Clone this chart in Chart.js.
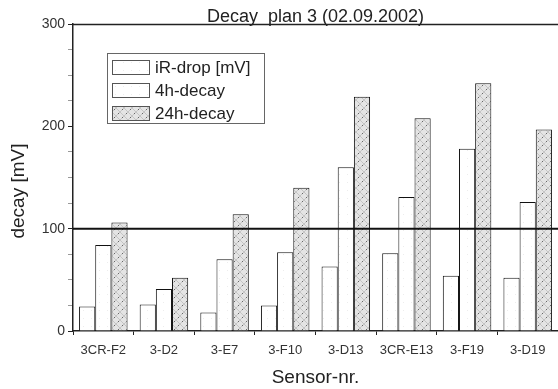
<!DOCTYPE html>
<html>
<head>
<meta charset="utf-8">
<script src="https://cdn.jsdelivr.net/npm/chart.js@4.4.0/dist/chart.umd.min.js"></script>
<style>
  html, body { margin: 0; padding: 0; background: #fff; }
  #wrap { width: 558px; height: 389px; position: relative; }
</style>
</head>
<body>
<div id="wrap"><canvas id="chartjs"></canvas></div>
<script>
// data
const categories = ['3CR-F2', '3-D2', '3-E7', '3-F10', '3-D13', '3CR-E13', '3-F19', '3-D19'];
const irDrop   = [24, 26, 18, 25, 63, 76, 54, 52];
const decay4h  = [84, 41, 70, 77, 160, 131, 178, 126];
const decay24h = [106, 52, 114, 140, 229, 208, 242, 197];
const seriesNames = ['iR-drop [mV]', '4h-decay', '24h-decay'];
const yTicks = [0, 100, 200, 300];
const limitValue = 100;

const FONT = "'Liberation Sans', Arial, sans-serif";

// fill patterns
function makePattern(kind) {
  const c = document.createElement('canvas');
  c.width = 8; c.height = 8;
  const g = c.getContext('2d');
  g.fillStyle = '#fff';
  g.fillRect(0, 0, 8, 8);
  if (kind == 'dense') {
    g.fillStyle = '#e4e4e4';
    g.fillRect(0, 0, 8, 8);
    g.strokeStyle = '#b8b8b8';
    g.lineWidth = 0.7;
    g.beginPath();
    g.moveTo(0, 0); g.lineTo(8, 8);
    g.moveTo(8, 0); g.lineTo(0, 8);
    g.stroke();
    g.fillStyle = '#666';
    g.fillRect(2, 5, 1, 1);
    g.fillRect(6, 1, 1, 1);
  } else {
    g.fillStyle = '#ededed';
    g.fillRect(3, 6, 1, 1);
  }
  return g.createPattern(c, 'repeat');
}

// horizontal limit line, top frame, title, axis titles, legend
const decor = {
  id: 'decor',
  afterDatasetsDraw(chart) {
    const ctx = chart.ctx;
    const a = chart.chartArea;
    const y = chart.scales.y.getPixelForValue(limitValue);
    ctx.save();
    ctx.strokeStyle = '#111';
    ctx.lineWidth = 2;
    ctx.beginPath();
    ctx.moveTo(a.left, y);
    ctx.lineTo(a.right, y);
    ctx.stroke();
    ctx.restore();
  },
  afterDraw(chart) {
    const ctx = chart.ctx;
    const a = chart.chartArea;
    ctx.save();
    // top frame
    ctx.strokeStyle = '#222';
    ctx.lineWidth = 1.5;
    ctx.beginPath();
    ctx.moveTo(a.left, a.top + 0.5);
    ctx.lineTo(a.right, a.top + 0.5);
    ctx.stroke();

    ctx.fillStyle = '#222';
    ctx.textAlign = 'center';
    ctx.textBaseline = 'alphabetic';
    ctx.font = '18px ' + FONT;
    ctx.fillText('Decay  plan 3 (02.09.2002)', (a.left + a.right) / 2, 22);

    ctx.font = '19px ' + FONT;
    ctx.textBaseline = 'middle';
    ctx.fillText('Sensor-nr.', (a.left + a.right) / 2, 378);

    ctx.translate(19, 191);
    ctx.rotate(-Math.PI / 2);
    ctx.fillText('decay [mV]', 0, 0);
    ctx.restore();

    // legend box
    const lx = 107, ly = 53, lw = 157, lh = 70;
    ctx.save();
    ctx.fillStyle = '#fff';
    ctx.fillRect(lx, ly, lw, lh);
    ctx.strokeStyle = '#666';
    ctx.lineWidth = 1;
    ctx.strokeRect(lx + 0.5, ly + 0.5, lw, lh);
    ctx.font = '17px ' + FONT;
    ctx.textAlign = 'left';
    ctx.textBaseline = 'middle';
    chart.data.datasets.forEach((ds, i) => {
      const sy = ly + 7 + i * 23;
      ctx.fillStyle = ds.backgroundColor;
      ctx.fillRect(lx + 5, sy, 37, 14);
      ctx.strokeStyle = '#555';
      ctx.strokeRect(lx + 5.5, sy + 0.5, 37, 14);
      ctx.fillStyle = '#222';
      ctx.fillText(ds.label, lx + 48, sy + 8);
    });
    ctx.restore();
  }
};

const fills = [makePattern('light'), makePattern('light'), makePattern('dense')];
const values = [irDrop, decay4h, decay24h];

new Chart(document.getElementById('chartjs'), {
  type: 'bar',
  data: {
    labels: categories,
    datasets: seriesNames.map((name, i) => ({
      label: name,
      data: values[i],
      backgroundColor: fills[i],
      borderColor: '#111',
      borderWidth: 1,
      borderSkipped: 'bottom',
      categoryPercentage: 0.8,
      barPercentage: 1.0
    }))
  },
  options: {
    responsive: true,
    maintainAspectRatio: false,
    animation: false,
    layout: { padding: { top: 24, right: 0, left: 0, bottom: 0 } },
    plugins: {
      legend: { display: false },
      title: { display: false },
      tooltip: { enabled: false }
    },
    scales: {
      x: {
        grid: {
          offset: true,
          drawOnChartArea: false,
          drawTicks: true,
          tickLength: 4,
          color: '#222'
        },
        border: { color: '#222', width: 1.5 },
        ticks: {
          color: '#333',
          font: { family: FONT, size: 13 },
          padding: 8,
          maxRotation: 0,
          autoSkip: false
        },
        afterFit(scale) { scale.height = 58; }
      },
      y: {
        min: 0,
        max: 300,
        grid: {
          drawOnChartArea: false,
          tickLength: 5,
          color: (c) => (yTicks.includes(c.tick.value) ? '#222' : '#999')
        },
        border: { color: '#222', width: 1.5 },
        ticks: {
          stepSize: 25,
          color: '#333',
          font: { family: FONT, size: 14 },
          padding: 3,
          callback: (v) => (yTicks.includes(v) ? v : '')
        },
        afterFit(scale) { scale.width = 73; }
      }
    }
  },
  plugins: [decor]
});
</script>
</body>
</html>
